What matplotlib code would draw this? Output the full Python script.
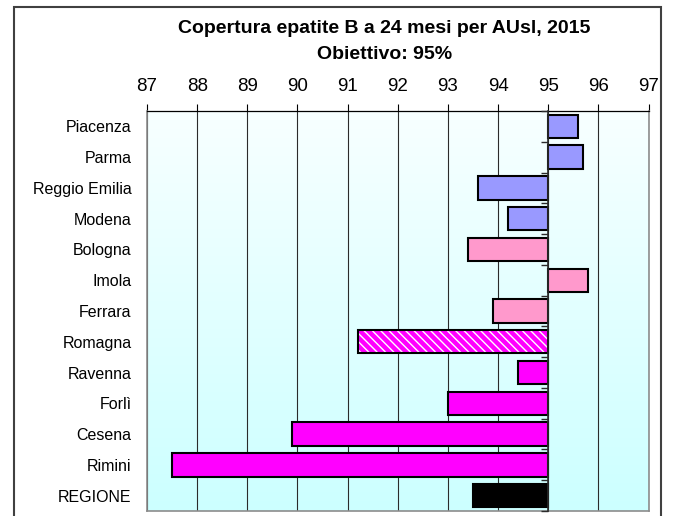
#!/usr/bin/env python3
"""
Copertura epatite B a 24 mesi per AUsl, 2015
- horizontal bars drawn from the 95% target
"""

import numpy as np
import matplotlib.pyplot as plt
from matplotlib.patches import Rectangle

plt.rcParams["font.family"] = ["Liberation Sans", "DejaVu Sans"]

# -------------------------------
# Data
# -------------------------------
categories = ["Piacenza", "Parma", "Reggio Emilia", "Modena", "Bologna", "Imola",
              "Ferrara", "Romagna", "Ravenna", "Forlì", "Cesena", "Rimini", "REGIONE"]
coverage = [95.6, 95.7, 93.6, 94.2, 93.4, 95.8, 93.9, 91.2, 94.4, 93.0, 89.9, 87.5, 93.5]
groups = ["emilia", "emilia", "emilia", "emilia", "centro", "centro", "centro",
          "romagna_tot", "romagna", "romagna", "romagna", "romagna", "regione"]
target = 95
x_ticks = list(range(87, 98))

group_colors = {
    "emilia": "#9999FF",
    "centro": "#FF99CC",
    "romagna_tot": "#FF00FF",
    "romagna": "#FF00FF",
    "regione": "#000000",
}

# -------------------------------
# Plot
# -------------------------------
fig = plt.figure(figsize=(6.73, 5.16), dpi=100)
ax = fig.add_axes([0.2184, 0.0097, 0.7452, 0.7752])

n = len(categories)
ypos = np.arange(n)
ax.set_xlim(87, 97)
ax.set_ylim(n - 0.5, -0.5)

# gradient background (white -> light cyan)
grad = np.linspace(0, 1, 256).reshape(-1, 1)
top_col = np.array([248, 255, 255]) / 255
bot_col = np.array([204, 255, 255]) / 255
img = top_col + grad[..., None] * (bot_col - top_col)
ax.imshow(img, extent=[87, 97, n - 0.5, -0.5], aspect="auto", zorder=0)

# grid
for t in x_ticks:
    ax.axvline(t, color="#2b2b2b", lw=0.8, zorder=1)

widths = [v - target for v in coverage]
for i, (w, g) in enumerate(zip(widths, groups)):
    col = group_colors[g]
    if g == "romagna_tot":
        ax.barh(ypos[i], w, left=target, height=0.76, color=col,
                edgecolor="white", hatch="\\\\\\\\", lw=0, zorder=2)
        ax.barh(ypos[i], w, left=target, height=0.76, fill=False,
                edgecolor="black", lw=1.5, zorder=3)
    else:
        ax.barh(ypos[i], w, left=target, height=0.76, color=col,
                edgecolor="black", lw=1.5, zorder=2)

# x axis on top
ax.xaxis.set_ticks_position("top")
ax.set_xticks(x_ticks)
ax.tick_params(axis="x", direction="out", length=5, width=0.8, pad=6.5,
               labelsize=13.5, color="black")
ax.set_yticks(ypos)
ax.set_yticklabels(categories, fontsize=11.5)
ax.tick_params(axis="y", length=0, pad=11)

for side in ["left", "right", "bottom"]:
    ax.spines[side].set_color("#8c8c8c")
    ax.spines[side].set_linewidth(1.2)
ax.spines["top"].set_color("black")
ax.spines["top"].set_linewidth(0.9)

# category axis sitting on the target line
ax2 = ax.twinx()
ax2.set_ylim(ax.get_ylim())
for side in ["left", "top", "bottom"]:
    ax2.spines[side].set_visible(False)
ax2.spines["right"].set_position(("data", target))
ax2.spines["right"].set_color("#2b2b2b")
ax2.spines["right"].set_linewidth(1.2)
ax2.set_yticks(np.arange(n + 1) - 0.5)
ax2.set_yticklabels([])
ax2.tick_params(axis="y", direction="in", length=5, width=1.0, color="#2b2b2b")

# titles
fig.text(0.571, 0.9355, "Copertura epatite B a 24 mesi per AUsl, 2015",
         ha="center", va="baseline", fontsize=14, fontweight="bold")
fig.text(0.571, 0.885, "Obiettivo: 95%",
         ha="center", va="baseline", fontsize=14, fontweight="bold")

# outer frame
fig.patches.append(Rectangle((14 / 673, -0.05), (661 - 14) / 673, 1.05 - 7 / 516,
                             transform=fig.transFigure, fill=False,
                             edgecolor="#404040", lw=1.5))

fig.savefig("out.png", dpi=100)
print("[Saved] out.png")
